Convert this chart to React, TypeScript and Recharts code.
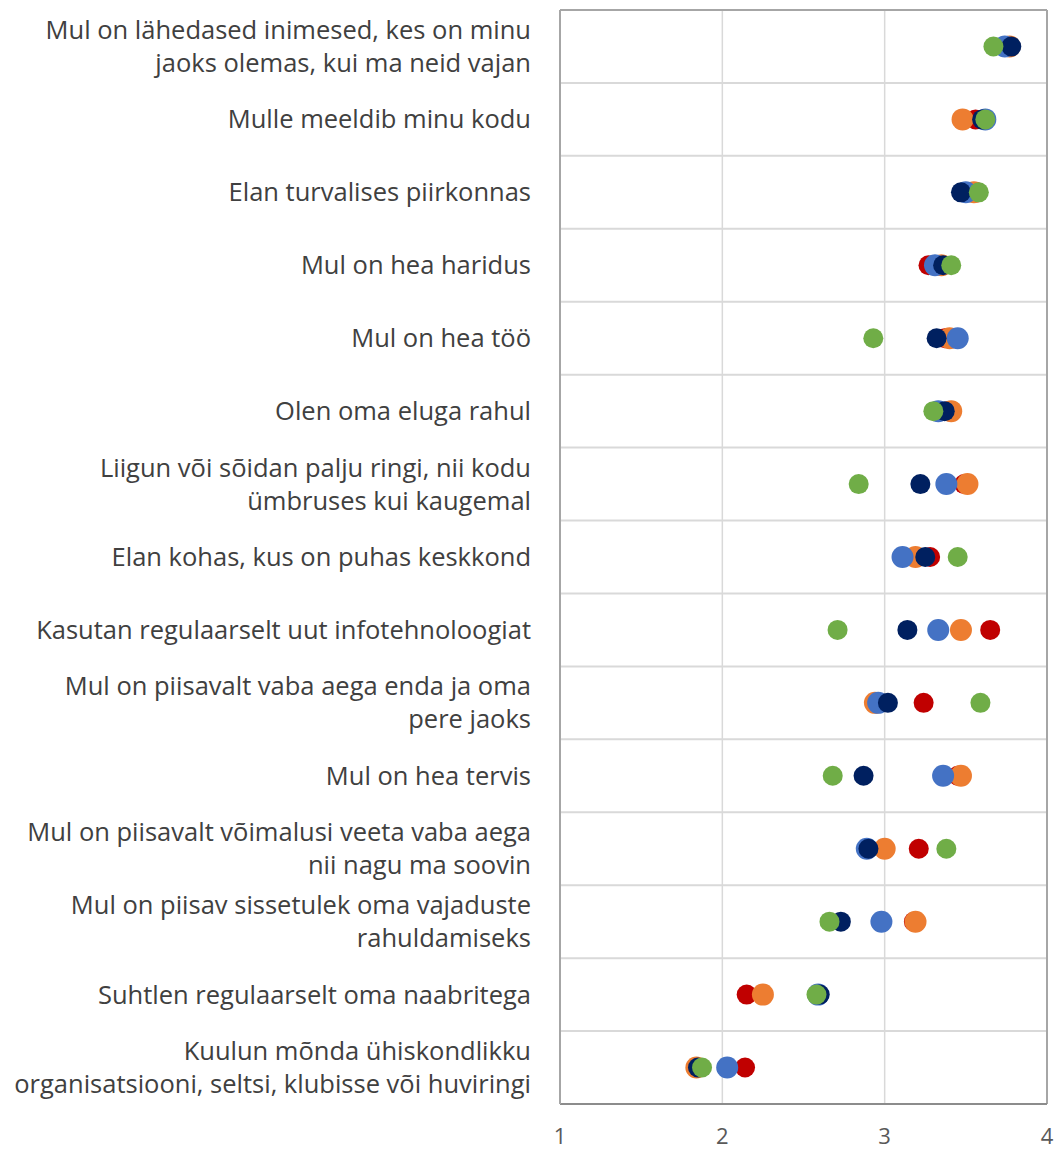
import {
  CartesianGrid,
  ReferenceLine,
  Scatter,
  ScatterChart,
  XAxis,
  YAxis,
} from "recharts";

// Statements, top to bottom. "\n" marks where the reference wraps the label.
const STATEMENTS = [
  "Mul on lähedased inimesed, kes on minu\njaoks olemas, kui ma neid vajan",
  "Mulle meeldib minu kodu",
  "Elan turvalises piirkonnas",
  "Mul on hea haridus",
  "Mul on hea töö",
  "Olen oma eluga rahul",
  "Liigun või sõidan palju ringi, nii kodu\nümbruses kui kaugemal",
  "Elan kohas, kus on puhas keskkond",
  "Kasutan regulaarselt uut infotehnoloogiat",
  "Mul on piisavalt vaba aega enda ja oma\npere jaoks",
  "Mul on hea tervis",
  "Mul on piisavalt võimalusi veeta vaba aega\nnii nagu ma soovin",
  "Mul on piisav sissetulek oma vajaduste\nrahuldamiseks",
  "Suhtlen regulaarselt oma naabritega",
  "Kuulun mõnda ühiskondlikku\norganisatsiooni, seltsi, klubisse või huviringi",
];

const RED = [3.76, 3.56, 3.57, 3.27, 3.37, 3.39, 3.49, 3.28, 3.65, 3.24, 3.45, 3.21, 3.18, 2.15, 2.14];
const ORANGE = [3.77, 3.48, 3.55, 3.35, 3.4, 3.41, 3.51, 3.19, 3.47, 2.94, 3.47, 3.0, 3.19, 2.25, 1.84];
const BLUE = [3.74, 3.62, 3.5, 3.31, 3.45, 3.33, 3.38, 3.11, 3.33, 2.96, 3.36, 2.89, 2.98, 2.59, 2.03];
const NAVY = [3.78, 3.6, 3.47, 3.36, 3.32, 3.37, 3.22, 3.25, 3.14, 3.02, 2.87, 2.9, 2.73, 2.6, 1.85];
const GREEN = [3.67, 3.62, 3.58, 3.41, 2.93, 3.3, 2.84, 3.45, 2.71, 3.59, 2.68, 3.38, 2.66, 2.58, 1.875];

const X_TICKS = [1, 2, 3, 4];

const SERIES = [
  { name: "Rühm 1", values: RED, color: "#C00000", r: 10 },
  { name: "Rühm 2", values: ORANGE, color: "#ED7D31", r: 11 },
  { name: "Rühm 3", values: BLUE, color: "#4472C4", r: 11 },
  { name: "Rühm 4", values: NAVY, color: "#002060", r: 10 },
  { name: "Rühm 5", values: GREEN, color: "#70AD47", r: 10 },
];

const ROW_CENTERS = STATEMENTS.map((_, i) => i + 0.5);
const ROW_EDGES = STATEMENTS.map((_, i) => i).slice(1);

const FONT = "'Open Sans', sans-serif";

function StatementTick(props: any) {
  const { x, y, payload } = props;
  const idx = Math.round(payload.value - 0.5);
  const lines = (STATEMENTS[idx] ?? "").split("\n");
  const lh = 33;
  const start = -((lines.length - 1) * lh) / 2;
  return (
    <text
      x={x - 28}
      y={y}
      textAnchor="end"
      fontFamily={FONT}
      fontSize={25.5}
      fill="#404040"
    >
      {lines.map((line, i) => (
        <tspan key={i} x={x - 27} dy={i === 0 ? start + 9 : lh}>
          {line}
        </tspan>
      ))}
    </text>
  );
}

function Dot(r: number, color: string) {
  return (props: any) => (
    <circle cx={props.cx} cy={props.cy} r={r} fill={color} />
  );
}

export default function App() {
  return (
    <div style={{ position: "absolute", left: 0, top: 0, background: "#fff" }}>
      <ScatterChart
        width={1060}
        height={1150}
        margin={{ top: 10, right: 13, left: 0, bottom: 0 }}
      >
        <CartesianGrid horizontal={false} stroke="#d9d9d9" strokeWidth={1.5} />
        {ROW_EDGES.map((e) => (
          <ReferenceLine key={e} y={e} stroke="#d9d9d9" strokeWidth={2} />
        ))}
        <ReferenceLine y={0} stroke="#a6a6a6" strokeWidth={2} />
        <ReferenceLine x={4} stroke="#a6a6a6" strokeWidth={2} />
        <XAxis
          type="number"
          dataKey="x"
          domain={[1, 4]}
          ticks={X_TICKS}
          height={46}
          tickLine={false}
          tickSize={0}
          tickMargin={24}
          axisLine={{ stroke: "#8c8c8c", strokeWidth: 2 }}
          tick={{ fontSize: 22, fill: "#595959", fontFamily: FONT }}
          allowDataOverflow
        />
        <YAxis
          type="number"
          dataKey="y"
          domain={[0, STATEMENTS.length]}
          ticks={ROW_CENTERS}
          reversed
          width={560}
          tickLine={false}
          tickSize={0}
          axisLine={{ stroke: "#a6a6a6", strokeWidth: 2 }}
          tick={<StatementTick />}
          interval={0}
        />
        {SERIES.map((s) => (
          <Scatter
            key={s.name}
            name={s.name}
            data={s.values.map((v, i) => ({ x: v, y: i + 0.5 }))}
            fill={s.color}
            shape={Dot(s.r, s.color)}
            isAnimationActive={false}
          />
        ))}
      </ScatterChart>
    </div>
  );
}
